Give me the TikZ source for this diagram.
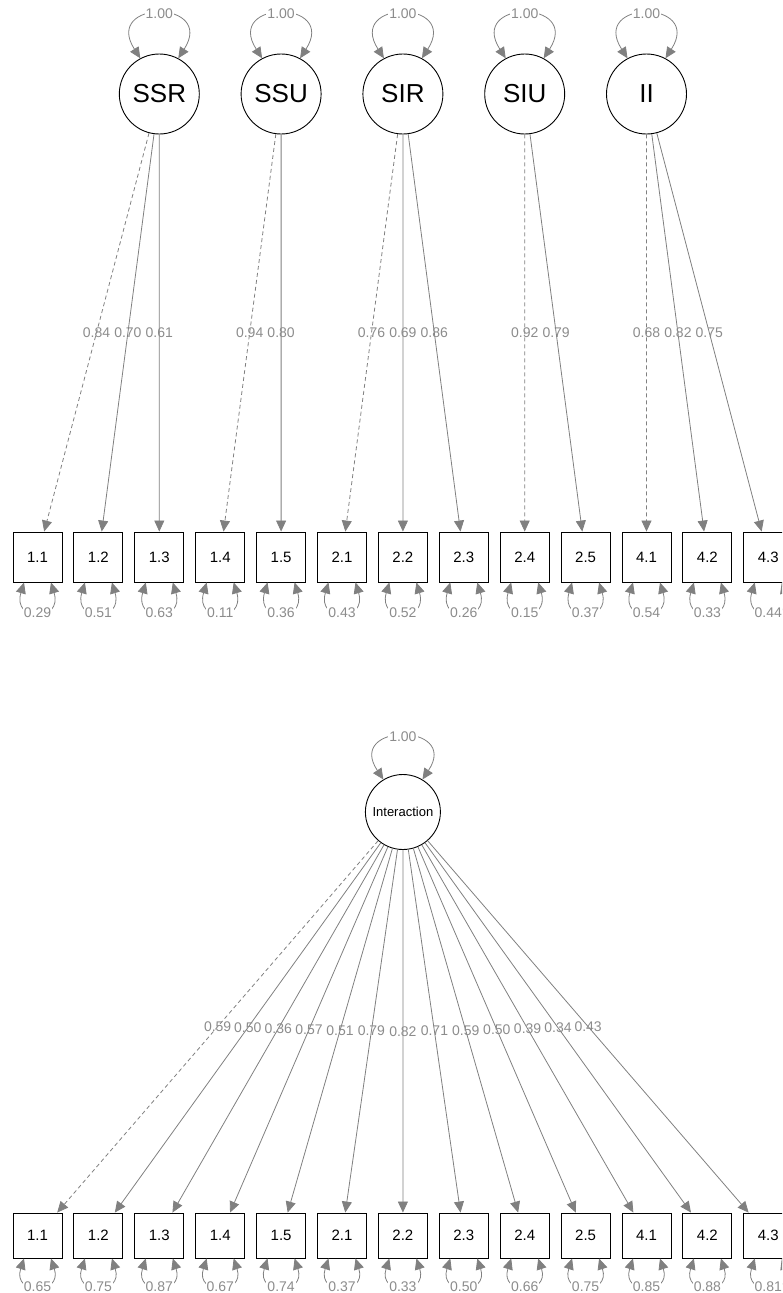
\documentclass[tikz,border=0pt]{standalone}
\usepackage{fontspec}
\setmainfont{Liberation Sans}
\usetikzlibrary{arrows.meta,calc}
\definecolor{edgegray}{HTML}{808080}
\definecolor{labgray}{HTML}{8C8C8C}
\begin{document}
\begin{tikzpicture}[x=1pt,y=-1pt,
 latent/.style={circle,draw=black,line width=0.9pt,minimum size=80pt,inner sep=0pt,font=\fontsize{26}{26}\selectfont},
 manifest/.style={rectangle,draw=black,line width=0.9pt,minimum width=49pt,minimum height=50pt,inner sep=0pt,font=\fontsize{15}{15}\selectfont},
 load/.style={draw=edgegray,line width=0.8pt,-{Triangle[length=11pt,width=10pt]}},
 firstload/.style={load,dash pattern=on 4pt off 3pt},
 lab/.style={text=labgray,font=\fontsize{14}{14}\selectfont,inner sep=1pt},
 var/.style={draw=edgegray,line width=0.8pt,{Triangle[length=11pt,width=10pt]}-{Triangle[length=11pt,width=10pt]}},
]
\useasboundingbox (0,0) rectangle (782,1293);
\clip (0,0) rectangle (782,1293);

% manifest boxes
\foreach \t [count=\k] in {1.1,1.2,1.3,1.4,1.5,2.1,2.2,2.3,2.4,2.5,4.1,4.2,4.3} {
  \node[manifest] (t\k) at ({37.5+60.9*(\k-1)},557) {\t};
  \node[manifest,minimum height=45pt] (b\k) at ({37.5+60.9*(\k-1)},1235.5) {\t};
}

% latent variables
\node[latent] (SSR) at (159.3,94) {SSR};
\node[latent] (SSU) at (281.1,94) {SSU};
\node[latent] (SIR) at (402.9,94) {SIR};
\node[latent] (SIU) at (524.7,94) {SIU};
\node[latent] (II)  at (646.5,94) {II};
\node[latent,minimum size=75pt,font=\fontsize{13}{13}\selectfont] (Int) at (402.9,812) {Interaction};

% latent variances
\foreach \n in {SSR,SSU,SIR,SIU,II} {
  \draw[var] (\n.118) .. controls +(-38,-59) and +(38,-59) .. (\n.62) node[pos=.5,lab,fill=white]{1.00};
}
\draw[var] (Int.121) .. controls +(-38,-57) and +(38,-57) .. (Int.59) node[pos=.5,lab,fill=white]{1.00};

% top loadings
\draw[firstload] (SSR) -- node[lab]{0.84} (t1);
\draw[load] (SSR) -- node[lab]{0.70} (t2);
\draw[load] (SSR) -- node[lab]{0.61} (t3);
\draw[firstload] (SSU) -- node[lab]{0.94} (t4);
\draw[load] (SSU) -- node[lab]{0.80} (t5);
\draw[firstload] (SIR) -- node[lab]{0.76} (t6);
\draw[load] (SIR) -- node[lab]{0.69} (t7);
\draw[load] (SIR) -- node[lab]{0.86} (t8);
\draw[firstload] (SIU) -- node[lab]{0.92} (t9);
\draw[load] (SIU) -- node[lab]{0.79} (t10);
\draw[firstload] (II) -- node[lab]{0.68} (t11);
\draw[load] (II) -- node[lab]{0.82} (t12);
\draw[load] (II) -- node[lab]{0.75} (t13);

% bottom loadings
\draw[firstload] (Int) -- node[lab]{0.59} (b1);
\foreach \l/\k in {0.50/2,0.36/3,0.57/4,0.51/5,0.79/6,0.82/7,0.71/8,0.59/9,0.50/10,0.39/11,0.34/12,0.43/13} {
  \draw[load] (Int) -- node[lab]{\l} (b\k);
}

% residual variances
\foreach \r [count=\k] in {0.29,0.51,0.63,0.11,0.36,0.43,0.52,0.26,0.15,0.37,0.54,0.33,0.44} {
  \draw[var] ($(t\k.south)+(-13.5,0)$) .. controls +(-12,40) and +(12,40) .. ($(t\k.south)+(13.5,0)$) node[pos=.5,lab,fill=white]{\r};
}
\foreach \r [count=\k] in {0.65,0.75,0.87,0.67,0.74,0.37,0.33,0.50,0.66,0.75,0.85,0.88,0.81} {
  \draw[var] ($(b\k.south)+(-13.5,0)$) .. controls +(-12,37) and +(12,37) .. ($(b\k.south)+(13.5,0)$) node[pos=.5,lab,fill=white]{\r};
}
\end{tikzpicture}
\end{document}
